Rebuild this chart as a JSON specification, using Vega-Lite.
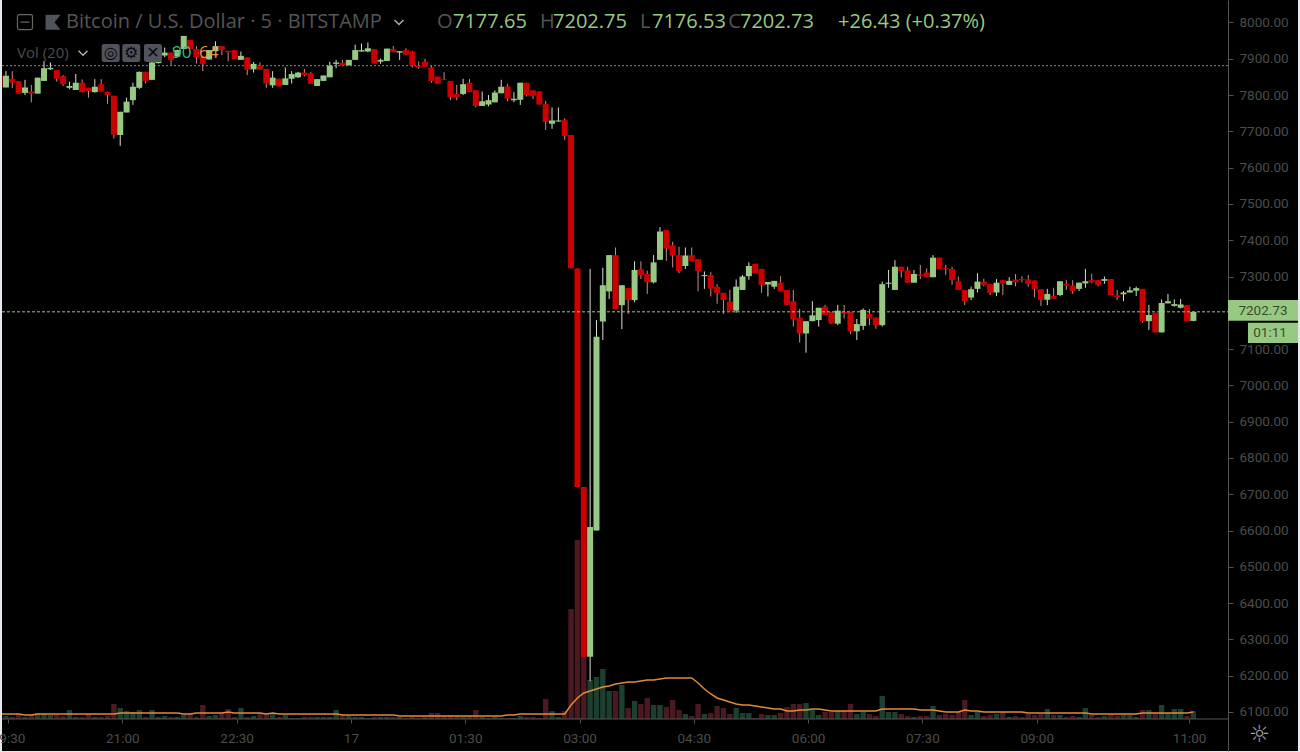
{"$schema":"https://vega.github.io/schema/vega-lite/v6.json","width":1296,"height":751,"autosize":"none","padding":{"left":2,"top":0,"right":2,"bottom":1},"background":"#e6e8f0","view":{"fill":"#000000","stroke":null},"config":{"axis":{"labelOverlap":false}},
"datasets":{"candles":[
{"t":"2019-05-16T19:25:00Z","o":7853,"h":7853,"l":7821,"c":7821,"v":7,"m":5},
{"t":"2019-05-16T19:30:00Z","o":7821,"h":7866,"l":7821,"c":7853,"v":3,"m":5},
{"t":"2019-05-16T19:35:00Z","o":7845,"h":7866,"l":7819,"c":7834,"v":2,"m":5},
{"t":"2019-05-16T19:40:00Z","o":7838,"h":7838,"l":7804,"c":7804,"v":5,"m":5},
{"t":"2019-05-16T19:45:00Z","o":7806,"h":7842,"l":7800,"c":7821,"v":2,"m":4},
{"t":"2019-05-16T19:50:00Z","o":7810,"h":7828,"l":7780,"c":7804,"v":4,"m":4},
{"t":"2019-05-16T19:55:00Z","o":7804,"h":7848,"l":7804,"c":7848,"v":6,"m":5},
{"t":"2019-05-16T20:00:00Z","o":7839,"h":7894,"l":7839,"c":7874,"v":5,"m":5},
{"t":"2019-05-16T20:05:00Z","o":7871,"h":7890,"l":7869,"c":7875,"v":4,"m":5},
{"t":"2019-05-16T20:10:00Z","o":7869,"h":7869,"l":7837,"c":7845,"v":4,"m":5},
{"t":"2019-05-16T20:15:00Z","o":7852,"h":7855,"l":7825,"c":7830,"v":3,"m":5},
{"t":"2019-05-16T20:20:00Z","o":7820,"h":7837,"l":7816,"c":7825,"v":9,"m":5},
{"t":"2019-05-16T20:25:00Z","o":7814,"h":7858,"l":7814,"c":7834,"v":2,"m":5},
{"t":"2019-05-16T20:30:00Z","o":7834,"h":7843,"l":7807,"c":7808,"v":2,"m":5},
{"t":"2019-05-16T20:35:00Z","o":7820,"h":7820,"l":7793,"c":7811,"v":5,"m":5},
{"t":"2019-05-16T20:40:00Z","o":7808,"h":7844,"l":7807,"c":7823,"v":2,"m":5},
{"t":"2019-05-16T20:45:00Z","o":7830,"h":7844,"l":7810,"c":7810,"v":2,"m":5},
{"t":"2019-05-16T20:50:00Z","o":7809,"h":7809,"l":7776,"c":7800,"v":3,"m":5},
{"t":"2019-05-16T20:55:00Z","o":7798,"h":7798,"l":7680,"c":7691,"v":15,"m":5},
{"t":"2019-05-16T21:00:00Z","o":7690,"h":7754,"l":7660,"c":7754,"v":11,"m":6},
{"t":"2019-05-16T21:05:00Z","o":7752,"h":7793,"l":7752,"c":7782,"v":8,"m":6},
{"t":"2019-05-16T21:10:00Z","o":7786,"h":7834,"l":7773,"c":7823,"v":7,"m":6},
{"t":"2019-05-16T21:15:00Z","o":7820,"h":7865,"l":7817,"c":7864,"v":9,"m":6},
{"t":"2019-05-16T21:20:00Z","o":7864,"h":7864,"l":7832,"c":7839,"v":2,"m":6},
{"t":"2019-05-16T21:25:00Z","o":7842,"h":7910,"l":7841,"c":7890,"v":9,"m":6},
{"t":"2019-05-16T21:30:00Z","o":7888,"h":7915,"l":7887,"c":7910,"v":2,"m":6},
{"t":"2019-05-16T21:35:00Z","o":7909,"h":7931,"l":7904,"c":7917,"v":3,"m":6},
{"t":"2019-05-16T21:40:00Z","o":7917,"h":7917,"l":7883,"c":7897,"v":2,"m":6},
{"t":"2019-05-16T21:45:00Z","o":7906,"h":7925,"l":7905,"c":7924,"v":2,"m":6},
{"t":"2019-05-16T21:50:00Z","o":7927,"h":7963,"l":7927,"c":7963,"v":4,"m":5},
{"t":"2019-05-16T21:55:00Z","o":7952,"h":7952,"l":7927,"c":7927,"v":5,"m":5},
{"t":"2019-05-16T22:00:00Z","o":7927,"h":7935,"l":7887,"c":7904,"v":2,"m":6},
{"t":"2019-05-16T22:05:00Z","o":7906,"h":7906,"l":7866,"c":7886,"v":14,"m":6},
{"t":"2019-05-16T22:10:00Z","o":7898,"h":7924,"l":7898,"c":7924,"v":3,"m":6},
{"t":"2019-05-16T22:15:00Z","o":7921,"h":7948,"l":7921,"c":7935,"v":4,"m":6},
{"t":"2019-05-16T22:20:00Z","o":7935,"h":7935,"l":7910,"c":7924,"v":6,"m":6},
{"t":"2019-05-16T22:25:00Z","o":7922,"h":7922,"l":7893,"c":7918,"v":10,"m":7},
{"t":"2019-05-16T22:30:00Z","o":7924,"h":7924,"l":7899,"c":7899,"v":2,"m":6},
{"t":"2019-05-16T22:35:00Z","o":7897,"h":7920,"l":7897,"c":7908,"v":11,"m":6},
{"t":"2019-05-16T22:40:00Z","o":7904,"h":7904,"l":7855,"c":7870,"v":2,"m":6},
{"t":"2019-05-16T22:45:00Z","o":7871,"h":7891,"l":7862,"c":7886,"v":3,"m":6},
{"t":"2019-05-16T22:50:00Z","o":7881,"h":7890,"l":7870,"c":7870,"v":6,"m":6},
{"t":"2019-05-16T22:55:00Z","o":7872,"h":7872,"l":7820,"c":7832,"v":5,"m":5},
{"t":"2019-05-16T23:00:00Z","o":7827,"h":7866,"l":7820,"c":7848,"v":6,"m":6},
{"t":"2019-05-16T23:05:00Z","o":7845,"h":7845,"l":7824,"c":7824,"v":2,"m":5},
{"t":"2019-05-16T23:10:00Z","o":7828,"h":7876,"l":7828,"c":7846,"v":4,"m":5},
{"t":"2019-05-16T23:15:00Z","o":7845,"h":7866,"l":7832,"c":7858,"v":1,"m":5},
{"t":"2019-05-16T23:20:00Z","o":7849,"h":7864,"l":7847,"c":7862,"v":1,"m":5},
{"t":"2019-05-16T23:25:00Z","o":7862,"h":7872,"l":7852,"c":7855,"v":2,"m":5},
{"t":"2019-05-16T23:30:00Z","o":7860,"h":7864,"l":7831,"c":7831,"v":2,"m":5},
{"t":"2019-05-16T23:35:00Z","o":7825,"h":7844,"l":7825,"c":7844,"v":2,"m":5},
{"t":"2019-05-16T23:40:00Z","o":7839,"h":7854,"l":7839,"c":7854,"v":2,"m":5},
{"t":"2019-05-16T23:45:00Z","o":7849,"h":7892,"l":7849,"c":7881,"v":2,"m":5},
{"t":"2019-05-16T23:50:00Z","o":7886,"h":7897,"l":7874,"c":7890,"v":9,"m":5},
{"t":"2019-05-16T23:55:00Z","o":7889,"h":7897,"l":7882,"c":7882,"v":3,"m":4},
{"t":"2019-05-17T00:00:00Z","o":7882,"h":7897,"l":7882,"c":7897,"v":3,"m":4},
{"t":"2019-05-17T00:05:00Z","o":7897,"h":7939,"l":7897,"c":7924,"v":2,"m":4},
{"t":"2019-05-17T00:10:00Z","o":7920,"h":7942,"l":7920,"c":7924,"v":2,"m":4},
{"t":"2019-05-17T00:15:00Z","o":7920,"h":7945,"l":7918,"c":7929,"v":1,"m":4},
{"t":"2019-05-17T00:20:00Z","o":7927,"h":7927,"l":7887,"c":7887,"v":2,"m":4},
{"t":"2019-05-17T00:25:00Z","o":7892,"h":7901,"l":7886,"c":7897,"v":2,"m":4},
{"t":"2019-05-17T00:30:00Z","o":7894,"h":7928,"l":7894,"c":7928,"v":2,"m":4},
{"t":"2019-05-17T00:35:00Z","o":7927,"h":7935,"l":7918,"c":7918,"v":2,"m":4},
{"t":"2019-05-17T00:40:00Z","o":7917,"h":7921,"l":7897,"c":7921,"v":2,"m":3},
{"t":"2019-05-17T00:45:00Z","o":7924,"h":7929,"l":7911,"c":7911,"v":1,"m":3},
{"t":"2019-05-17T00:50:00Z","o":7920,"h":7922,"l":7876,"c":7881,"v":2,"m":3},
{"t":"2019-05-17T00:55:00Z","o":7881,"h":7893,"l":7872,"c":7876,"v":1,"m":3},
{"t":"2019-05-17T01:00:00Z","o":7892,"h":7900,"l":7878,"c":7878,"v":2,"m":3},
{"t":"2019-05-17T01:05:00Z","o":7876,"h":7880,"l":7834,"c":7839,"v":6,"m":3},
{"t":"2019-05-17T01:10:00Z","o":7851,"h":7851,"l":7831,"c":7831,"v":6,"m":3},
{"t":"2019-05-17T01:15:00Z","o":7844,"h":7863,"l":7841,"c":7842,"v":3,"m":3},
{"t":"2019-05-17T01:20:00Z","o":7839,"h":7839,"l":7786,"c":7794,"v":4,"m":3},
{"t":"2019-05-17T01:25:00Z","o":7803,"h":7828,"l":7786,"c":7794,"v":3,"m":3},
{"t":"2019-05-17T01:30:00Z","o":7803,"h":7845,"l":7800,"c":7830,"v":2,"m":3},
{"t":"2019-05-17T01:35:00Z","o":7834,"h":7844,"l":7808,"c":7808,"v":3,"m":3},
{"t":"2019-05-17T01:40:00Z","o":7813,"h":7813,"l":7766,"c":7770,"v":9,"m":3},
{"t":"2019-05-17T01:45:00Z","o":7770,"h":7810,"l":7770,"c":7783,"v":2,"m":3},
{"t":"2019-05-17T01:50:00Z","o":7774,"h":7800,"l":7769,"c":7786,"v":1,"m":3},
{"t":"2019-05-17T01:55:00Z","o":7780,"h":7813,"l":7780,"c":7807,"v":2,"m":3},
{"t":"2019-05-17T02:00:00Z","o":7805,"h":7842,"l":7805,"c":7823,"v":1,"m":3},
{"t":"2019-05-17T02:05:00Z","o":7824,"h":7831,"l":7783,"c":7790,"v":1,"m":4},
{"t":"2019-05-17T02:10:00Z","o":7786,"h":7808,"l":7780,"c":7790,"v":1,"m":4},
{"t":"2019-05-17T02:15:00Z","o":7787,"h":7834,"l":7773,"c":7834,"v":3,"m":5},
{"t":"2019-05-17T02:20:00Z","o":7834,"h":7834,"l":7796,"c":7800,"v":2,"m":5},
{"t":"2019-05-17T02:25:00Z","o":7813,"h":7813,"l":7789,"c":7798,"v":2,"m":5},
{"t":"2019-05-17T02:30:00Z","o":7810,"h":7810,"l":7774,"c":7774,"v":1,"m":5},
{"t":"2019-05-17T02:35:00Z","o":7776,"h":7784,"l":7704,"c":7726,"v":20,"m":5},
{"t":"2019-05-17T02:40:00Z","o":7721,"h":7766,"l":7707,"c":7730,"v":8,"m":5},
{"t":"2019-05-17T02:45:00Z","o":7727,"h":7766,"l":7727,"c":7730,"v":2,"m":5},
{"t":"2019-05-17T02:50:00Z","o":7731,"h":7736,"l":7676,"c":7687,"v":8,"m":5},
{"t":"2019-05-17T02:55:00Z","o":7690,"h":7690,"l":7322,"c":7323,"v":110,"m":14},
{"t":"2019-05-17T03:00:00Z","o":7322,"h":7322,"l":6720,"c":6720,"v":179,"m":21},
{"t":"2019-05-17T03:05:00Z","o":6720,"h":6720,"l":6252,"c":6252,"v":90,"m":26},
{"t":"2019-05-17T03:10:00Z","o":6252,"h":7321,"l":6185,"c":6610,"v":39,"m":28},
{"t":"2019-05-17T03:15:00Z","o":6600,"h":7180,"l":6600,"c":7134,"v":42,"m":30},
{"t":"2019-05-17T03:20:00Z","o":7176,"h":7324,"l":7125,"c":7276,"v":50,"m":32},
{"t":"2019-05-17T03:25:00Z","o":7259,"h":7359,"l":7238,"c":7359,"v":28,"m":33},
{"t":"2019-05-17T03:30:00Z","o":7359,"h":7380,"l":7210,"c":7210,"v":28,"m":35},
{"t":"2019-05-17T03:35:00Z","o":7221,"h":7276,"l":7155,"c":7276,"v":34,"m":36},
{"t":"2019-05-17T03:40:00Z","o":7268,"h":7268,"l":7197,"c":7235,"v":11,"m":37},
{"t":"2019-05-17T03:45:00Z","o":7235,"h":7342,"l":7229,"c":7318,"v":18,"m":37},
{"t":"2019-05-17T03:50:00Z","o":7320,"h":7342,"l":7293,"c":7304,"v":15,"m":38},
{"t":"2019-05-17T03:55:00Z","o":7307,"h":7316,"l":7252,"c":7284,"v":21,"m":39},
{"t":"2019-05-17T04:00:00Z","o":7284,"h":7359,"l":7281,"c":7339,"v":14,"m":39},
{"t":"2019-05-17T04:05:00Z","o":7346,"h":7436,"l":7346,"c":7424,"v":14,"m":40},
{"t":"2019-05-17T04:10:00Z","o":7428,"h":7428,"l":7343,"c":7377,"v":12,"m":41},
{"t":"2019-05-17T04:15:00Z","o":7386,"h":7396,"l":7325,"c":7358,"v":19,"m":41},
{"t":"2019-05-17T04:20:00Z","o":7359,"h":7382,"l":7309,"c":7315,"v":9,"m":41},
{"t":"2019-05-17T04:25:00Z","o":7329,"h":7380,"l":7321,"c":7358,"v":5,"m":41},
{"t":"2019-05-17T04:30:00Z","o":7359,"h":7380,"l":7342,"c":7342,"v":3,"m":41},
{"t":"2019-05-17T04:35:00Z","o":7348,"h":7348,"l":7259,"c":7315,"v":15,"m":36},
{"t":"2019-05-17T04:40:00Z","o":7301,"h":7314,"l":7266,"c":7304,"v":5,"m":30},
{"t":"2019-05-17T04:45:00Z","o":7304,"h":7312,"l":7245,"c":7267,"v":6,"m":25},
{"t":"2019-05-17T04:50:00Z","o":7272,"h":7279,"l":7225,"c":7254,"v":13,"m":21},
{"t":"2019-05-17T04:55:00Z","o":7255,"h":7255,"l":7197,"c":7235,"v":11,"m":19},
{"t":"2019-05-17T05:00:00Z","o":7231,"h":7263,"l":7206,"c":7206,"v":5,"m":17},
{"t":"2019-05-17T05:05:00Z","o":7206,"h":7292,"l":7200,"c":7272,"v":11,"m":15},
{"t":"2019-05-17T05:10:00Z","o":7263,"h":7304,"l":7263,"c":7300,"v":6,"m":14},
{"t":"2019-05-17T05:15:00Z","o":7301,"h":7339,"l":7291,"c":7329,"v":6,"m":14},
{"t":"2019-05-17T05:20:00Z","o":7335,"h":7335,"l":7309,"c":7309,"v":1,"m":13},
{"t":"2019-05-17T05:25:00Z","o":7321,"h":7321,"l":7255,"c":7277,"v":5,"m":12},
{"t":"2019-05-17T05:30:00Z","o":7278,"h":7285,"l":7245,"c":7285,"v":4,"m":11},
{"t":"2019-05-17T05:35:00Z","o":7272,"h":7288,"l":7266,"c":7288,"v":4,"m":10},
{"t":"2019-05-17T05:40:00Z","o":7283,"h":7301,"l":7259,"c":7259,"v":6,"m":10},
{"t":"2019-05-17T05:45:00Z","o":7263,"h":7263,"l":7222,"c":7222,"v":12,"m":8},
{"t":"2019-05-17T05:50:00Z","o":7232,"h":7263,"l":7162,"c":7182,"v":15,"m":8},
{"t":"2019-05-17T05:55:00Z","o":7187,"h":7211,"l":7118,"c":7143,"v":15,"m":9},
{"t":"2019-05-17T06:00:00Z","o":7143,"h":7177,"l":7090,"c":7177,"v":16,"m":9},
{"t":"2019-05-17T06:05:00Z","o":7177,"h":7232,"l":7177,"c":7193,"v":9,"m":10},
{"t":"2019-05-17T06:10:00Z","o":7180,"h":7214,"l":7162,"c":7214,"v":4,"m":10},
{"t":"2019-05-17T06:15:00Z","o":7217,"h":7222,"l":7194,"c":7194,"v":7,"m":9},
{"t":"2019-05-17T06:20:00Z","o":7202,"h":7202,"l":7170,"c":7170,"v":7,"m":8},
{"t":"2019-05-17T06:25:00Z","o":7170,"h":7222,"l":7166,"c":7206,"v":8,"m":8},
{"t":"2019-05-17T06:30:00Z","o":7203,"h":7222,"l":7184,"c":7198,"v":8,"m":8},
{"t":"2019-05-17T06:35:00Z","o":7202,"h":7202,"l":7142,"c":7149,"v":15,"m":8},
{"t":"2019-05-17T06:40:00Z","o":7149,"h":7183,"l":7125,"c":7169,"v":5,"m":8},
{"t":"2019-05-17T06:45:00Z","o":7164,"h":7212,"l":7153,"c":7208,"v":7,"m":8},
{"t":"2019-05-17T06:50:00Z","o":7197,"h":7210,"l":7166,"c":7184,"v":5,"m":8},
{"t":"2019-05-17T06:55:00Z","o":7187,"h":7187,"l":7156,"c":7166,"v":3,"m":8},
{"t":"2019-05-17T07:00:00Z","o":7166,"h":7286,"l":7162,"c":7279,"v":23,"m":10},
{"t":"2019-05-17T07:05:00Z","o":7280,"h":7318,"l":7269,"c":7283,"v":7,"m":10},
{"t":"2019-05-17T07:10:00Z","o":7263,"h":7345,"l":7263,"c":7327,"v":7,"m":10},
{"t":"2019-05-17T07:15:00Z","o":7327,"h":7327,"l":7297,"c":7315,"v":5,"m":10},
{"t":"2019-05-17T07:20:00Z","o":7317,"h":7327,"l":7283,"c":7283,"v":3,"m":10},
{"t":"2019-05-17T07:25:00Z","o":7283,"h":7318,"l":7283,"c":7307,"v":2,"m":10},
{"t":"2019-05-17T07:30:00Z","o":7306,"h":7332,"l":7293,"c":7302,"v":3,"m":9},
{"t":"2019-05-17T07:35:00Z","o":7311,"h":7322,"l":7298,"c":7298,"v":3,"m":9},
{"t":"2019-05-17T07:40:00Z","o":7298,"h":7359,"l":7298,"c":7352,"v":13,"m":9},
{"t":"2019-05-17T07:45:00Z","o":7352,"h":7352,"l":7321,"c":7321,"v":4,"m":8},
{"t":"2019-05-17T07:50:00Z","o":7324,"h":7332,"l":7304,"c":7321,"v":5,"m":7},
{"t":"2019-05-17T07:55:00Z","o":7321,"h":7327,"l":7277,"c":7290,"v":4,"m":7},
{"t":"2019-05-17T08:00:00Z","o":7287,"h":7300,"l":7263,"c":7263,"v":7,"m":7},
{"t":"2019-05-17T08:05:00Z","o":7263,"h":7263,"l":7221,"c":7232,"v":19,"m":9},
{"t":"2019-05-17T08:10:00Z","o":7242,"h":7272,"l":7235,"c":7265,"v":4,"m":8},
{"t":"2019-05-17T08:15:00Z","o":7266,"h":7309,"l":7256,"c":7286,"v":7,"m":8},
{"t":"2019-05-17T08:20:00Z","o":7286,"h":7294,"l":7273,"c":7277,"v":3,"m":7},
{"t":"2019-05-17T08:25:00Z","o":7279,"h":7279,"l":7249,"c":7255,"v":4,"m":7},
{"t":"2019-05-17T08:30:00Z","o":7256,"h":7293,"l":7246,"c":7283,"v":5,"m":7},
{"t":"2019-05-17T08:35:00Z","o":7290,"h":7290,"l":7249,"c":7280,"v":7,"m":7},
{"t":"2019-05-17T08:40:00Z","o":7277,"h":7298,"l":7277,"c":7288,"v":2,"m":7},
{"t":"2019-05-17T08:45:00Z","o":7292,"h":7307,"l":7273,"c":7284,"v":3,"m":7},
{"t":"2019-05-17T08:50:00Z","o":7293,"h":7301,"l":7284,"c":7290,"v":2,"m":7},
{"t":"2019-05-17T08:55:00Z","o":7292,"h":7304,"l":7272,"c":7279,"v":5,"m":6},
{"t":"2019-05-17T09:00:00Z","o":7289,"h":7289,"l":7242,"c":7266,"v":4,"m":6},
{"t":"2019-05-17T09:05:00Z","o":7265,"h":7265,"l":7219,"c":7236,"v":5,"m":6},
{"t":"2019-05-17T09:10:00Z","o":7236,"h":7266,"l":7221,"c":7252,"v":10,"m":6},
{"t":"2019-05-17T09:15:00Z","o":7247,"h":7269,"l":7239,"c":7239,"v":4,"m":6},
{"t":"2019-05-17T09:20:00Z","o":7249,"h":7287,"l":7246,"c":7287,"v":4,"m":6},
{"t":"2019-05-17T09:25:00Z","o":7280,"h":7290,"l":7263,"c":7275,"v":2,"m":6},
{"t":"2019-05-17T09:30:00Z","o":7275,"h":7290,"l":7252,"c":7260,"v":3,"m":6},
{"t":"2019-05-17T09:35:00Z","o":7266,"h":7283,"l":7260,"c":7283,"v":2,"m":6},
{"t":"2019-05-17T09:40:00Z","o":7281,"h":7321,"l":7269,"c":7287,"v":11,"m":6},
{"t":"2019-05-17T09:45:00Z","o":7290,"h":7308,"l":7281,"c":7284,"v":4,"m":5},
{"t":"2019-05-17T09:50:00Z","o":7290,"h":7290,"l":7273,"c":7277,"v":2,"m":5},
{"t":"2019-05-17T09:55:00Z","o":7288,"h":7300,"l":7280,"c":7293,"v":3,"m":5},
{"t":"2019-05-17T10:00:00Z","o":7293,"h":7293,"l":7249,"c":7249,"v":4,"m":5},
{"t":"2019-05-17T10:05:00Z","o":7248,"h":7263,"l":7235,"c":7243,"v":3,"m":5},
{"t":"2019-05-17T10:10:00Z","o":7251,"h":7260,"l":7232,"c":7256,"v":4,"m":5},
{"t":"2019-05-17T10:15:00Z","o":7256,"h":7272,"l":7256,"c":7262,"v":4,"m":5},
{"t":"2019-05-17T10:20:00Z","o":7261,"h":7272,"l":7246,"c":7268,"v":2,"m":5},
{"t":"2019-05-17T10:25:00Z","o":7266,"h":7266,"l":7173,"c":7177,"v":9,"m":6},
{"t":"2019-05-17T10:30:00Z","o":7177,"h":7222,"l":7153,"c":7194,"v":9,"m":6},
{"t":"2019-05-17T10:35:00Z","o":7200,"h":7200,"l":7146,"c":7146,"v":6,"m":6},
{"t":"2019-05-17T10:40:00Z","o":7146,"h":7237,"l":7146,"c":7227,"v":14,"m":6},
{"t":"2019-05-17T10:45:00Z","o":7226,"h":7252,"l":7226,"c":7232,"v":6,"m":6},
{"t":"2019-05-17T10:50:00Z","o":7219,"h":7237,"l":7217,"c":7224,"v":10,"m":6},
{"t":"2019-05-17T10:55:00Z","o":7214,"h":7238,"l":7212,"c":7223,"v":10,"m":6},
{"t":"2019-05-17T11:00:00Z","o":7221,"h":7221,"l":7176,"c":7177,"v":3,"m":6},
{"t":"2019-05-17T11:05:00Z","o":7177.65,"h":7202.75,"l":7176.53,"c":7202.73,"v":8,"m":7}
]},
"resolve":{"scale":{"y":"independent"}},
"encoding":{"x":{"field":"t","type":"temporal","title":null,"scale":{"type":"utc","padding":0,"domain":["2019-05-16T19:26:54Z","2019-05-17T12:27:24Z"]},"axis":{"orient":"bottom","offset":-32,"domain":false,"grid":false,"tickColor":"#555555","tickSize":4,"labelColor":"#4c4c4c","labelFont":"Roboto","labelFontSize":13.5,"labelPadding":8,"labelFlush":false,"labelOverlap":false,"tickCount":40,"values":["2019-05-16T19:31:39Z","2019-05-16T21:01:39Z","2019-05-16T22:31:39Z","2019-05-17T00:01:39Z","2019-05-17T01:31:39Z","2019-05-17T03:01:39Z","2019-05-17T04:31:39Z","2019-05-17T06:01:39Z","2019-05-17T07:31:39Z","2019-05-17T09:01:39Z","2019-05-17T11:01:39Z"],"labelExpr":"utchours(datum.value)==0?'17':utcFormat(datum.value-99000,'%H:%M')"}}},
"layer":[
{"data":{"name":"candles"},"layer":[
{"mark":{"type":"bar","size":5.4,"clip":true},"encoding":{"y":{"field":"v","type":"quantitative","scale":{"domain":[-32,719],"nice":false,"zero":false},"axis":null},"y2":{"datum":0},"color":{"condition":{"test":"datum.c<datum.o","value":"#4a1a20"},"value":"#1c3f30"}}},
{"mark":{"type":"line","color":"#e08a3c","strokeWidth":1.5,"clip":true},"encoding":{"y":{"field":"m","type":"quantitative","scale":{"domain":[-32,719],"nice":false,"zero":false},"axis":null}}}
]},
{"layer":[
{"data":{"values":[{"t":"2019-05-16T19:26:54Z","t2":"2019-05-17T11:32:18Z","p":6080.7}]},"mark":{"type":"rule","color":"#555555","strokeWidth":1},"encoding":{"x2":{"field":"t2"},"y":{"field":"p","type":"quantitative","title":null,"scale":{"domain":[5992.5,8062],"nice":false,"zero":false},"axis":{"orient":"right","offset":-70,"tickCount":40,"values":[6100,6200,6300,6400,6500,6600,6700,6800,6900,7000,7100,7200,7300,7400,7500,7600,7700,7800,7900,8000],"format":".2f","grid":false,"domainColor":"#555555","tickColor":"#555555","tickSize":5,"labelColor":"#4c4c4c","labelFont":"Roboto","labelFontSize":13.5,"labelPadding":6,"labelOverlap":false}}}},
{"data":{"values":[{"t":"2019-05-16T19:26:54Z","t2":"2019-05-17T11:32:18Z","p":7881}]},"mark":{"type":"rule","color":"#8a8a8a","strokeWidth":1,"strokeDash":[2,2]},"encoding":{"x2":{"field":"t2"},"y":{"field":"p","type":"quantitative"}}},
{"data":{"name":"candles"},"mark":{"type":"rule","strokeWidth":1,"clip":true},"encoding":{"y":{"field":"l","type":"quantitative"},"y2":{"field":"h"},"color":{"condition":{"test":"datum.c<datum.o","value":"#c88c8c"},"value":"#d8ded4"}}},
{"data":{"name":"candles"},"mark":{"type":"bar","size":6,"clip":true},"encoding":{"y":{"field":"o","type":"quantitative"},"y2":{"field":"c"},"color":{"condition":{"test":"datum.c<datum.o","value":"#cc0000"},"value":"#98c982"}}},
{"data":{"values":[{"t":"2019-05-16T19:26:54Z","t2":"2019-05-17T11:32:18Z","p":7202.73}]},"mark":{"type":"rule","color":"#98c982","strokeWidth":1,"strokeDash":[3,2]},"encoding":{"x2":{"field":"t2"},"y":{"field":"p","type":"quantitative"}}},
{"data":{"values":[{"t":"2019-05-17T11:32:18Z","t2":"2019-05-17T12:27:24Z","p":7235.3,"p2":7178.3},{"t":"2019-05-17T11:48:00Z","t2":"2019-05-17T12:27:24Z","p":7172.8,"p2":7116.8}]},"mark":{"type":"bar","color":"#98c982"},"encoding":{"x2":{"field":"t2"},"y":{"field":"p","type":"quantitative"},"y2":{"field":"p2"}}},
{"data":{"values":[{"t":"2019-05-17T11:59:48Z","p":7205,"label":"7202.73"},{"t":"2019-05-17T12:05:24Z","p":7144,"label":"01:11"}]},"mark":{"type":"text","font":"Roboto","fontSize":13.5,"color":"#3a4a30","align":"center","baseline":"middle"},"encoding":{"y":{"field":"p","type":"quantitative"},"text":{"field":"label"}}},
{"data":{"values":[{"t":"2019-05-16T20:17:18Z","p":8001,"label":"Bitcoin / U.S. Dollar · 5 · BITSTAMP"},{"t":"2019-05-17T01:09:24Z","p":8001,"label":"O"},{"t":"2019-05-17T02:30:36Z","p":8001,"label":"H"},{"t":"2019-05-17T03:49:18Z","p":8001,"label":"L"},{"t":"2019-05-17T04:58:48Z","p":8001,"label":"C"}]},"mark":{"type":"text","font":"Open Sans","fontSize":20,"color":"#555555","align":"left","baseline":"middle"},"encoding":{"y":{"field":"p","type":"quantitative"},"text":{"field":"label"}}},
{"data":{"values":[{"t":"2019-05-17T01:22:00Z","p":8001,"label":"7177.65"},{"t":"2019-05-17T02:40:48Z","p":8001,"label":"7202.75"},{"t":"2019-05-17T03:58:42Z","p":8001,"label":"7176.53"},{"t":"2019-05-17T05:08:00Z","p":8001,"label":"7202.73"},{"t":"2019-05-17T06:25:12Z","p":8001,"label":"+26.43 (+0.37%)"}]},"mark":{"type":"text","font":"Open Sans","fontSize":20,"color":"#98c982","align":"left","baseline":"middle"},"encoding":{"y":{"field":"p","type":"quantitative"},"text":{"field":"label"}}},
{"data":{"values":[{"t":"2019-05-16T19:38:42Z","p":7916,"label":"Vol (20)"}]},"mark":{"type":"text","font":"Open Sans","fontSize":15,"color":"#4c4c4c","align":"left","baseline":"middle"},"encoding":{"y":{"field":"p","type":"quantitative"},"text":{"field":"label"}}},
{"data":{"values":[{"t":"2019-05-16T20:30:42Z","p":7916},{"t":"2019-05-17T00:39:30Z","p":8001}]},"mark":{"type":"point","shape":"M-1,-0.5L0,0.5L1,-0.5","filled":false,"size":81,"color":"#b0b0b0","strokeWidth":1.4,"opacity":1},"encoding":{"y":{"field":"p","type":"quantitative"}}},
{"data":{"values":[{"t":"2019-05-16T20:52:30Z","p":7916},{"t":"2019-05-16T21:08:42Z","p":7916},{"t":"2019-05-16T21:25:48Z","p":7916}]},"mark":{"type":"point","shape":"M-0.75,-1H0.75Q1,-1 1,-0.75V0.75Q1,1 0.75,1H-0.75Q-1,1 -1,0.75V-0.75Q-1,-1 -0.75,-1Z","filled":true,"size":324,"color":"#50525c","opacity":1},"encoding":{"y":{"field":"p","type":"quantitative"}}},
{"data":{"values":[{"t":"2019-05-16T20:52:30Z","p":7916,"label":"◎"},{"t":"2019-05-16T21:08:42Z","p":7916,"label":"⚙"},{"t":"2019-05-16T21:25:48Z","p":7916,"label":"✕"}]},"mark":{"type":"text","font":"DejaVu Sans","fontSize":16,"fontWeight":"bold","color":"#0a0a0a","align":"center","baseline":"middle"},"encoding":{"y":{"field":"p","type":"quantitative"},"text":{"field":"label"}}},
{"data":{"values":[{"t":"2019-05-16T21:40:48Z","p":7916,"label":"90"}]},"mark":{"type":"text","font":"Open Sans","fontSize":17,"color":"#3fb68b","align":"left","baseline":"middle"},"encoding":{"y":{"field":"p","type":"quantitative"},"text":{"field":"label"}}},
{"data":{"values":[{"t":"2019-05-16T22:02:00Z","p":7916,"label":"64"}]},"mark":{"type":"text","font":"Open Sans","fontSize":17,"color":"#e8954c","align":"left","baseline":"middle"},"encoding":{"y":{"field":"p","type":"quantitative"},"text":{"field":"label"}}},
{"data":{"values":[{"t":"2019-05-16T19:45:00Z","p":8001}]},"mark":{"type":"point","shape":"M-0.75,-1H0.75Q1,-1 1,-0.75V0.75Q1,1 0.75,1H-0.75Q-1,1 -1,0.75V-0.75Q-1,-1 -0.75,-1Z M-0.6,0H0.6","filled":false,"size":225,"color":"#666666","strokeWidth":1.2,"opacity":1},"encoding":{"y":{"field":"p","type":"quantitative"}}},
{"data":{"values":[{"t":"2019-05-16T20:07:06Z","p":8001}]},"mark":{"type":"point","shape":"M-1,-1H1L0.2,0L1,1H-1Z","filled":true,"size":225,"color":"#50525c","opacity":1},"encoding":{"y":{"field":"p","type":"quantitative"}}},
{"data":{"values":[{"t":"2019-05-17T11:57:00Z","p":6036,"label":"☼"}]},"mark":{"type":"text","font":"DejaVu Sans","fontSize":24,"color":"#a0a0a0","align":"center","baseline":"middle"},"encoding":{"y":{"field":"p","type":"quantitative"},"text":{"field":"label"}}}
]}
]}
